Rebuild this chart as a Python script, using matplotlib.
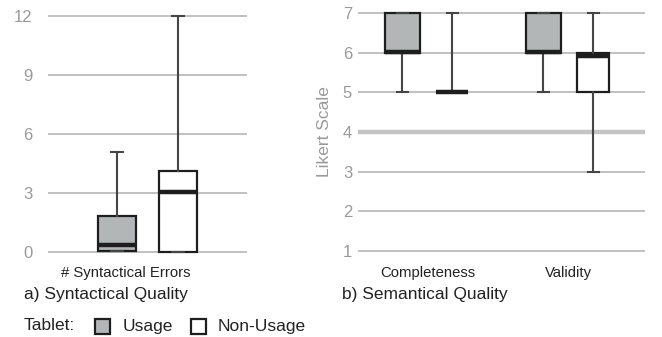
import matplotlib
matplotlib.use('Agg')
from matplotlib import pyplot as plt
from matplotlib.patches import Rectangle

plt.rcParams['font.family'] = ['Liberation Sans', 'DejaVu Sans']

# a) syntactical quality: number of errors
syn_category = '# Syntactical Errors'
syn_usage = dict(q1=0.05, med=0.35, q3=1.85, whislo=0.05, whishi=5.1)
syn_nonusage = dict(q1=0.0, med=3.05, q3=4.1, whislo=0.0, whishi=12.0)
syn_ticks = [0, 3, 6, 9, 12]

# b) semantical quality: likert ratings
sem_categories = ['Completeness', 'Validity']
sem_usage = [dict(q1=6.0, med=6.03, q3=7.0, whislo=5.0, whishi=7.0),
             dict(q1=6.0, med=6.03, q3=7.0, whislo=5.0, whishi=7.0)]
sem_nonusage = [dict(q1=5.0, med=5.0, q3=5.0, whislo=5.0, whishi=7.0),
                dict(q1=5.0, med=5.92, q3=6.0, whislo=3.0, whishi=7.0)]
sem_ticks = [1, 2, 3, 4, 5, 6, 7]

usage_col = '#b3b6b6'
edge = '#1e1e1e'
whisk = '#454545'
grid_col = '#bcbcbc'
tick_col = '#9a9a9a'
txt_col = '#222222'


def draw(ax, stats, positions, widths, fill, capw):
    for s in stats:
        s['fliers'] = []
    ax.bxp(stats, positions=positions, widths=widths, showfliers=False,
           patch_artist=True, capwidths=capw,
           boxprops=dict(facecolor=fill, edgecolor=edge, linewidth=1.6),
           medianprops=dict(color=edge, linewidth=3.2, solid_capstyle='butt'),
           whiskerprops=dict(color=whisk, linewidth=1.5),
           capprops=dict(color=whisk, linewidth=1.5), zorder=3)


def style(ax, ticks, ypad):
    for sp in ax.spines.values():
        sp.set_visible(False)
    ax.set_yticks(ticks)
    ax.tick_params(axis='y', length=0, labelsize=12, colors=tick_col, pad=ypad)
    ax.tick_params(axis='x', length=0, colors=txt_col, labelsize=10.7, pad=4)
    for t in ticks:
        ax.axhline(t, color=grid_col, linewidth=1.3, zorder=1)


fig = plt.figure(figsize=(6.62, 3.37), dpi=100)

ax1 = fig.add_axes([0.0725, 0.2258, 0.3006, 0.745])
ax1.set_xlim(-0.5, 0.5)
ax1.set_ylim(-0.45, 12.3)
style(ax1, syn_ticks, 11)
draw(ax1, [dict(syn_usage)], [-0.155], 0.19, usage_col, 0.06)
draw(ax1, [dict(syn_nonusage)], [0.155], 0.19, 'white', 0.06)
ax1.set_xticks([-0.11])
ax1.set_xticklabels([syn_category])

ax2 = fig.add_axes([0.5403, 0.2267, 0.434, 0.763])
ax2.set_xlim(0.504, 2.542)
ax2.set_ylim(0.75, 7.25)
style(ax2, sem_ticks, 4)
ax2.axhline(4, color='#c4c4c4', linewidth=3.2, zorder=1)
cats = list(range(1, len(sem_categories) + 1))
draw(ax2, [dict(s) for s in sem_usage], [c - 0.18 for c in cats], 0.25, usage_col, 0.08)
draw(ax2, [dict(s) for s in sem_nonusage], [c + 0.175 for c in cats], 0.23, 'white', 0.08)
ax2.set_xticks(cats)
ax2.set_xticklabels(sem_categories)
ax2.set_ylabel('Likert Scale', color=tick_col, fontsize=12.5, labelpad=8)

fig.text(24 / 662, 1 - 295 / 337, 'a) Syntactical Quality', fontsize=12.5, va='center', color=txt_col)
fig.text(341.5 / 662, 1 - 295 / 337, 'b) Semantical Quality', fontsize=12.5, va='center', color=txt_col)

# legend
ly = 1 - 326 / 337
fig.text(24 / 662, ly, 'Tablet:', fontsize=12.5, va='center', color=txt_col)
for x0, fc, lab, tx in [(95, usage_col, 'Usage', 123), (190.5, 'white', 'Non-Usage', 218)]:
    fig.add_artist(Rectangle((x0 / 662, 1 - 334 / 337), 15 / 662, 15 / 337,
                             facecolor=fc, edgecolor=edge, linewidth=1.6,
                             transform=fig.transFigure))
    fig.text(tx / 662, ly, lab, fontsize=12.5, va='center', color=txt_col)

fig.savefig('out.png', dpi=100)
